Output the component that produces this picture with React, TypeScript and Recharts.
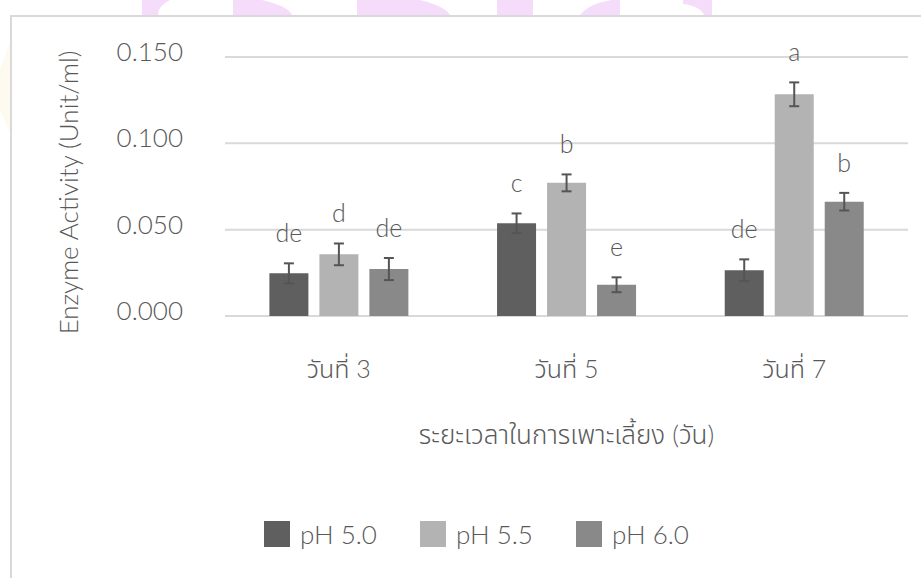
import React from 'react';
import { BarChart, Bar, XAxis, YAxis, CartesianGrid, ErrorBar, LabelList, Label } from 'recharts';

const days = ['วันที่ 3', 'วันที่ 5', 'วันที่ 7'];
const seriesNames = ['pH 5.0', 'pH 5.5', 'pH 6.0'];
const ph50 = [0.0247, 0.0537, 0.0265];
const ph55 = [0.0357, 0.0771, 0.1284];
const ph60 = [0.0272, 0.0181, 0.0662];
const err50 = [0.0058, 0.0057, 0.0063];
const err55 = [0.0063, 0.0049, 0.0069];
const err60 = [0.0064, 0.0043, 0.0051];
const letters50 = ['de', 'c', 'de'];
const letters55 = ['d', 'b', 'a'];
const letters60 = ['de', 'e', 'b'];
const yTicks = [0, 0.05, 0.1, 0.15];

const COLORS = ['#5f5f5f', '#b3b3b3', '#898989'];
const TEXT = '#595959';
const FONT = "Lato, 'Noto Sans Thai', 'Noto Sans', 'DejaVu Sans', sans-serif";

const data = days.map((day, i) => ({
  day,
  v50: ph50[i], v55: ph55[i], v60: ph60[i],
  e50: err50[i], e55: err55[i], e60: err60[i],
}));

// letter placed just above the error bar cap
const letterLabel = (letters: string[], errs: number[]) => (props: any) => {
  const { x, y, width, height, value, index } = props;
  const pxPerUnit = height / value;
  const capY = y - errs[index] * pxPerUnit;
  return (
    <text x={x + width / 2} y={capY - 21} textAnchor="middle" fill={TEXT}
      fontSize={25} fontFamily={FONT} fontWeight={300}>
      {letters[index]}
    </text>
  );
};

const YTick = (props: any) => {
  const { y, payload } = props;
  return (
    <text x={183} y={y} dy={4} textAnchor="end" fill={TEXT} fontSize={26} fontFamily={FONT} fontWeight={300}>
      {payload.value.toFixed(3)}
    </text>
  );
};

const XTick = (props: any) => {
  const { x, y, payload } = props;
  return (
    <text x={x} y={y} dy={62} textAnchor="middle" fill={TEXT} fontSize={25} fontFamily={FONT} fontWeight={300}>
      {payload.value}
    </text>
  );
};

// faint background stamp around the frame
const Watermark = () => (
  <svg width={921} height={140} style={{ position: 'absolute', left: 0, top: 0 }}>
    <g fill="#f5dcfa">
      <path d="M142 0 H170 Q158 6 158 15 H142 Z" />
      <path d="M233 0 H262 Q288 6 292 15 H233 Z" />
      <path d="M357 0 H420 Q445 6 450 15 H357 Z" />
      <rect x={497} y={0} width={36} height={15} />
      <path d="M580 15 Q590 3 612 0 H620 V15 Z" />
      <path d="M683 0 H712 V15 H704 Q700 6 683 4 Z" />
    </g>
    <path d="M0 70 L10 42 L10 132 L0 110 Z" fill="#fffaf0" />
  </svg>
);

const legendLeft = [264, 420, 576];

export default function App() {
  const bars = [
    { key: 'v50', err: 'e50', letters: letters50, errs: err50 },
    { key: 'v55', err: 'e55', letters: letters55, errs: err55 },
    { key: 'v60', err: 'e60', letters: letters60, errs: err60 },
  ];
  return (
    <div style={{ position: 'absolute', left: 0, top: 0, width: 921, height: 578, overflow: 'hidden', background: '#fff' }}>
      <Watermark />
      <div style={{ position: 'absolute', left: 10, top: 15, width: 960, height: 620, border: '2px solid #d9d9d9', boxSizing: 'border-box' }} />
      <BarChart
        width={921}
        height={578}
        data={data}
        margin={{ top: 57, right: 13, left: 0, bottom: 0 }}
        barCategoryGap="19.5%"
        barGap={11}
        style={{ position: 'absolute', left: 0, top: 0 }}
      >
        <CartesianGrid vertical={false} stroke="#d9d9d9" strokeWidth={2} />
        <XAxis dataKey="day" height={262} axisLine={false} tickLine={false} tickSize={0} tickMargin={0} tick={<XTick />} interval={0}>
          <Label
            content={(p: any) => (
              <text x={p.viewBox.x + p.viewBox.width / 2} y={p.viewBox.y + 128} textAnchor="middle" fill={TEXT}
                fontSize={26} fontFamily={FONT} fontWeight={300}>
                ระยะเวลาในการเพาะเลี้ยง (วัน)
              </text>
            )}
          />
        </XAxis>
        <YAxis width={225} domain={[0, 0.15]} ticks={yTicks} axisLine={false} tickLine={false} tick={<YTick />}>
          <Label
            content={(p: any) => {
              const cx = 68;
              const cy = p.viewBox.y + p.viewBox.height / 2 + 6;
              return (
                <text x={cx} y={cy} transform={`rotate(-90 ${cx} ${cy})`} textAnchor="middle" dominantBaseline="central"
                  fill={TEXT} fontSize={26} fontFamily={FONT} fontWeight={300}>
                  Enzyme Activity (Unit/ml)
                </text>
              );
            }}
          />
        </YAxis>
        {bars.map((b, i) => (
          <Bar key={b.key} dataKey={b.key} name={seriesNames[i]} fill={COLORS[i]} isAnimationActive={false}>
            <ErrorBar dataKey={b.err} width={5} stroke="#555555" strokeWidth={2} />
            <LabelList dataKey={b.key} content={letterLabel(b.letters, b.errs)} />
          </Bar>
        ))}
      </BarChart>
      {seriesNames.map((name, i) => (
        <div key={name} style={{ position: 'absolute', left: legendLeft[i], top: 521, display: 'flex', alignItems: 'center', fontFamily: FONT, fontWeight: 300, fontSize: 26, color: TEXT, lineHeight: '26px' }}>
          <span style={{ display: 'inline-block', width: 26, height: 26, background: COLORS[i], marginRight: 10 }} />
          <span>{name}</span>
        </div>
      ))}
    </div>
  );
}
